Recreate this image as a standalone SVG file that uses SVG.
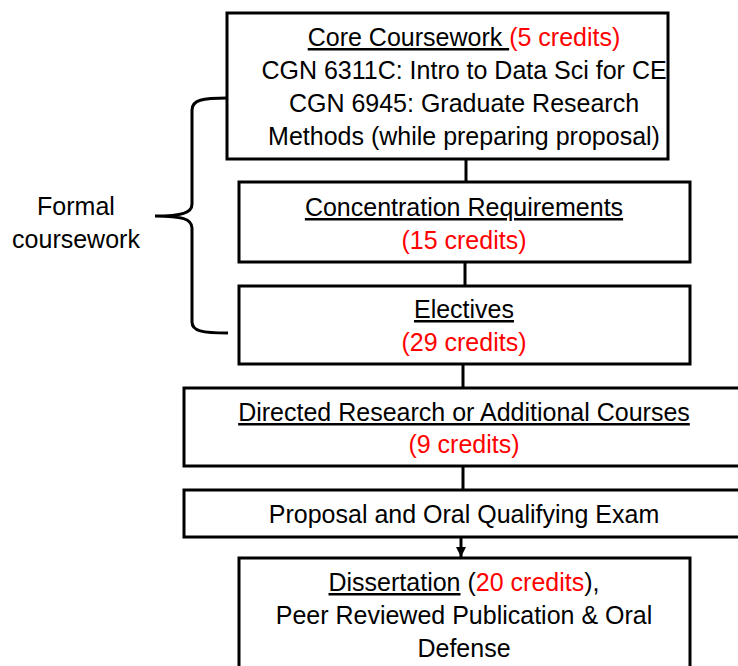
<svg xmlns="http://www.w3.org/2000/svg" width="738" height="666" viewBox="0 0 738 666">
<style>
.box{fill:#fff;stroke:#000;stroke-width:3}
.t{font-family:"Liberation Sans",Arial,sans-serif;font-size:25px;fill:#000;text-anchor:middle}
.red{fill:#ff0000}
.u{text-decoration:underline}
.conn{stroke:#000;stroke-width:3;fill:none}
</style>
<defs>
<marker id="ah" markerWidth="10" markerHeight="10" refX="10" refY="5" orient="auto" markerUnits="userSpaceOnUse" viewBox="0 0 10 10">
<path d="M0,0 L10,5 L0,10 Z" fill="#000"/>
</marker>
</defs>
<g id="connectors">
<line class="conn" x1="466" y1="159" x2="466" y2="182"/>
<line class="conn" x1="465" y1="262" x2="465" y2="286"/>
<line class="conn" x1="463" y1="364" x2="463" y2="388"/>
<line class="conn" x1="463" y1="466" x2="463" y2="490"/>
<line x1="461" y1="537" x2="461" y2="557" stroke="#000" stroke-width="3" marker-end="url(#ah)"/>
<path class="conn" d="M228,98 C202,98 192,100 192,110 L192,204 C192,213 182,216 155,216 C182,216 192,219 192,228 L192,322 C192,331 202,333 228,333"/>
</g>
<g id="brace-label">
<text class="t" x="76" y="215">Formal</text>
<text class="t" x="76" y="248">coursework</text>
</g>
<g id="core">
<rect class="box" x="227" y="13" width="441" height="146"/>
<text class="t" x="464" y="46"><tspan class="u">Core Coursework </tspan><tspan class="red">(5 credits)</tspan></text>
<text class="t" x="464" y="79">CGN 6311C: Intro to Data Sci for CE</text>
<text class="t" x="464" y="112">CGN 6945: Graduate Research</text>
<text class="t" x="464" y="145">Methods (while preparing proposal)</text>
</g>
<g id="concentration">
<rect class="box" x="239" y="182" width="451" height="80"/>
<text class="t u" x="464" y="216">Concentration Requirements</text>
<text class="t red" x="464" y="249">(15 credits)</text>
</g>
<g id="electives">
<rect class="box" x="239" y="286" width="451" height="78"/>
<text class="t u" x="464" y="318">Electives</text>
<text class="t red" x="464" y="351">(29 credits)</text>
</g>
<g id="directed">
<rect class="box" x="184" y="388" width="570" height="78"/>
<text class="t u" x="464" y="421">Directed Research or Additional Courses</text>
<text class="t red" x="464" y="453">(9 credits)</text>
</g>
<g id="proposal">
<rect class="box" x="184" y="490" width="570" height="47"/>
<text class="t" x="464" y="523">Proposal and Oral Qualifying Exam</text>
</g>
<g id="dissertation">
<rect class="box" x="239" y="558" width="451" height="120"/>
<text class="t" x="464" y="591"><tspan class="u">Dissertation</tspan> (<tspan class="red">20 credits</tspan>),</text>
<text class="t" x="464" y="624">Peer Reviewed Publication &amp; Oral</text>
<text class="t" x="464" y="657">Defense</text>
</g>
</svg>
